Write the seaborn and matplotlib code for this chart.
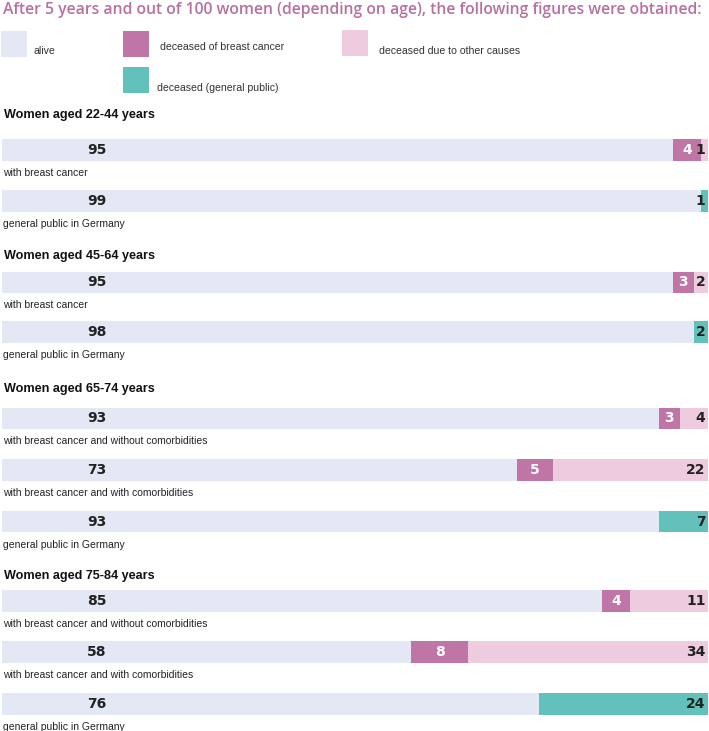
import numpy as np
import pandas as pd
import matplotlib
matplotlib.use("Agg")
import matplotlib.pyplot as plt
from matplotlib.patches import Rectangle
import seaborn as sns

# ---------------- data ----------------
title = "After 5 years and out of 100 women (depending on age), the following figures were obtained:"
legend_labels = ["alive", "deceased of breast cancer", "deceased due to other causes", "deceased (general public)"]
groups = ["Women aged 22-44 years", "Women aged 45-64 years",
          "Women aged 65-74 years", "Women aged 75-84 years"]
row_labels = ["with breast cancer", "general public in Germany",
              "with breast cancer", "general public in Germany",
              "with breast cancer and without comorbidities",
              "with breast cancer and with comorbidities",
              "general public in Germany",
              "with breast cancer and without comorbidities",
              "with breast cancer and with comorbidities",
              "general public in Germany"]
row_kind = ["cancer", "public", "cancer", "public", "cancer", "cancer", "public",
            "cancer", "cancer", "public"]
alive = [95, 99, 95, 98, 93, 73, 93, 85, 58, 76]
died_breast_cancer = [4, 0, 3, 0, 3, 5, 0, 4, 8, 0]
died_other = [1, 0, 2, 0, 4, 22, 0, 11, 34, 0]
died_public = [0, 1, 0, 2, 0, 0, 7, 0, 0, 24]

# ---------------- style / layout ----------------
C_ALIVE = "#e3e8f4"
C_BC = "#bf75a5"
C_OTHER = "#efcbe0"
C_PUBLIC = "#63c1bb"
C_TITLE = "#b8709f"
C_NUM = "#222222"

sns.set_theme(style="white")
plt.rcParams["font.family"] = ["DejaVu Sans"]

W, H = 709, 731
fig = plt.figure(figsize=(W / 100, H / 100), dpi=100)
ax = fig.add_axes([0, 0, 1, 1])
ax.set_axis_off()

# pixel layout of rows (vertical centres) and headings
row_y = [150, 201, 282.5, 332, 418.5, 470, 521.5, 601, 652, 704]
head_y = [115, 256, 389, 576]
bar_h = 21.5

df = pd.DataFrame({
    "y": row_y,
    "kind": row_kind,
    "alive": alive,
    "bc": died_breast_cancer,
    "other": died_other,
    "public": died_public,
})
df["total"] = df["alive"] + df["bc"] + df["other"] + df["public"]
df["alive_bc"] = df["alive"] + df["bc"]

width = bar_h / np.diff(sorted(row_y)).min()
common = dict(data=df, y="y", orient="y", native_scale=True, errorbar=None,
              width=width, linewidth=0, saturation=1, ax=ax)

# layer 1: full bar (other causes / general public deaths)
sns.barplot(x="total", hue="kind", palette={"cancer": C_OTHER, "public": C_PUBLIC},
            dodge=False, legend=False, **common)
# layer 2: alive + deceased of breast cancer
sns.barplot(x="alive_bc", color=C_BC, **common)
# layer 3: alive
sns.barplot(x="alive", color=C_ALIVE, **common)

# map x 0..100 onto pixels 2..708, y in pixels (top-down)
x_per_px = 100 / 706
ax.set_xlim(-2 * x_per_px, 100 + 1 * x_per_px)
ax.set_ylim(H, 0)
ax.set_axis_off()

def px(xp):
    return -2 * x_per_px + xp * x_per_px

# value labels
num_font = dict(fontsize=10, fontweight="bold", family="DejaVu Sans", va="center")
for i, r in df.iterrows():
    ax.text(px(97), r["y"], f"{r['alive']}", ha="center", color=C_NUM, **num_font)
    if r["bc"] > 0:
        ax.text(r["alive"] + r["bc"] / 2, r["y"], f"{r['bc']}", ha="center",
                color="white", **num_font)
    last = r["other"] if r["kind"] == "cancer" else r["public"]
    ax.text(99.65, r["y"], f"{last}", ha="right", color=C_NUM, **num_font)
    ax.text(px(3), r["y"] + 23, row_labels[i], ha="left", va="center",
            fontsize=7.5, family="Liberation Sans", color="#222222")

for g, gy in zip(groups, head_y):
    ax.text(px(4), gy, g, ha="left", va="center", fontsize=9.1, fontweight="bold",
            family="Liberation Sans", color="#111111")

# title, scaled to span the width
t = ax.text(px(3), 10, title, ha="left", va="center", fontsize=11,
            fontweight="semibold", family="Open Sans", color=C_TITLE)
fig.canvas.draw()
bb = t.get_window_extent()
t.set_fontsize(11 * 703 / bb.width)

# legend (manual, in pixel space)
leg_items = [
    (1, 31, C_ALIVE, legend_labels[0], 33, 51),
    (123, 31, C_BC, legend_labels[1], 160, 47),
    (342, 30, C_OTHER, legend_labels[2], 379, 51.5),
    (123, 67, C_PUBLIC, legend_labels[3], 157, 88),
]
for (x0, y0, c, lab, tx, ty) in leg_items:
    ax.add_patch(Rectangle((px(x0), y0), 26 * x_per_px, 25.5, color=c, lw=0))
    ax.text(px(tx), ty, lab, ha="left", va="center", fontsize=7.6,
            family="Liberation Sans", color="#333333")

fig.savefig("out.png", dpi=100)
